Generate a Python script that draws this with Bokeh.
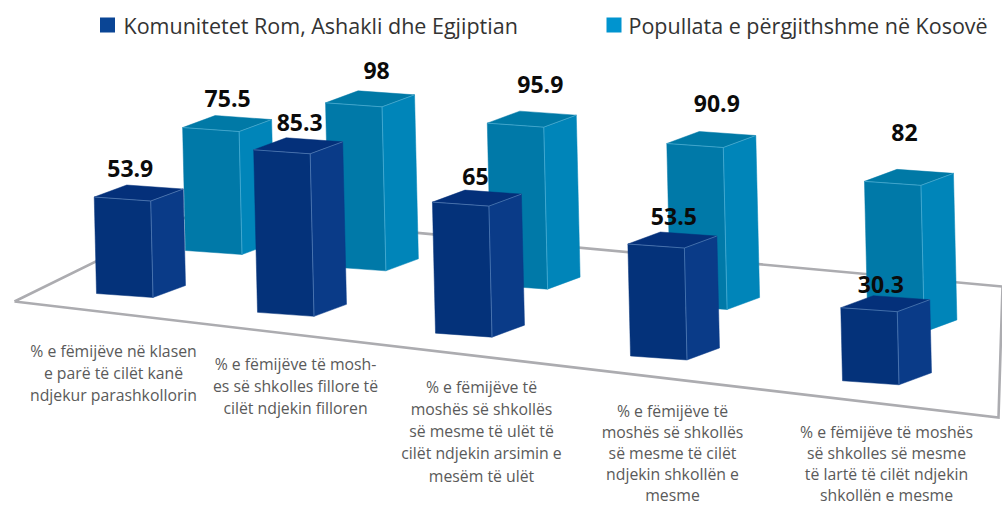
from bokeh.embed import file_html
from bokeh.models import ColumnDataSource, Range1d
from bokeh.plotting import figure
from bokeh.resources import INLINE
from bokeh.core.properties import value

# ---- data -------------------------------------------------------------
series_names = ["Komunitetet Rom, Ashakli dhe Egjiptian", "Popullata e përgjithshme në Kosovë"]
rom_values = [53.9, 85.3, 65, 53.5, 30.3]
pop_values = [75.5, 98, 95.9, 90.9, 82]
# The picture does not draw its bars in proportion to their printed labels:
# these are the bar heights as drawn, read on a common scale of percent units.
rom_drawn = [53.6, 90.3, 72.8, 62.2, 40.6]
pop_drawn = [68.3, 91.1, 90.0, 90.0, 81.4]
categories = [
    ["% e fëmijëve në klasen", "e parë të cilët kanë", "ndjekur parashkollorin"],
    ["% e fëmijëve të mosh-", "es së shkolles fillore të", "cilët ndjekin filloren"],
    ["% e fëmijëve të", "moshës së shkollës", "së mesme të ulët të", "cilët ndjekin arsimin e", "mesëm të ulët"],
    ["% e fëmijëve të", "moshës së shkollës", "së mesme të cilët", "ndjekin shkollën e", "mesme"],
    ["% e fëmijëve të moshës", "së shkolles së mesme", "të lartë të cilët ndjekin", "shkollën e mesme"],
]

# ---- layout / perspective parameters ----------------------------------
PX_PER_UNIT = 1.8
LEAN = 0.0235
FRONT = (56.5, 4.0)
SIDE = (32.5, -12.0)
ROM = dict(x0=96, ax=152.5, bx=8.5, y0=293, slope=0.117,
           front="#04327a", side="#0a3b88", top="#04307a", edge="#5d87bd")
POP = dict(x0=185, ax=135, bx=8.9, y0=250, slope=0.1134,
           front="#0079a8", side="#0085b9", top="#0079a6", edge="#55b4d8")
rom_label_off = [(36, -29), (46, -27), (43, -26), (46, -28), (40, -23)]
pop_label_off = [(45, -29), (51, -32), (53, -39), (50, -40), (40, -49)]
cat_x = [113, 295, 481, 672, 886]
cat_first_y = [350, 363, 386, 410, 431]
cat_step = [22.3, 22.3, 22.3, 21.2, 21.2]
FLOOR_X = [14, 195, 1002, 998, 14]
FLOOR_Y = [301, 212, 286, 417, 301]

p = figure(width=1002, height=506, output_backend="svg", toolbar_location=None,
           x_range=Range1d(0, 1002), y_range=Range1d(506, 0),
           x_axis_type=None, y_axis_type=None, min_border=0,
           outline_line_color=None, background_fill_color="white")
p.grid.visible = False

p.line(FLOOR_X, FLOOR_Y, line_color="#acacb0", line_width=2.6, line_join="miter")


def bars(drawn, style):
    data = {k: [] for k in ("fx", "fy", "sx", "sy", "tx", "ty")}
    ex0, ey0, ex1, ey1 = [], [], [], []
    tops = []
    for i, d in enumerate(drawn):
        h = d * PX_PER_UNIT
        blx = style["x0"] + style["ax"] * i + style["bx"] * i * i
        bly = style["y0"] + style["slope"] * (blx - style["x0"])
        tlx, tly = blx - LEAN * h, bly - h
        brx, bry = blx + FRONT[0], bly + FRONT[1]
        trx, try_ = tlx + FRONT[0], tly + FRONT[1]
        data["fx"].append([tlx, trx, brx, blx])
        data["fy"].append([tly, try_, bry, bly])
        data["sx"].append([trx, trx + SIDE[0], brx + SIDE[0], brx])
        data["sy"].append([try_, try_ + SIDE[1], bry + SIDE[1], bry])
        data["tx"].append([tlx, tlx + SIDE[0], trx + SIDE[0], trx])
        data["ty"].append([tly, tly + SIDE[1], try_ + SIDE[1], try_])
        for a, b in (((tlx, tly), (trx, try_)), ((trx, try_), (brx, bry)),
                     ((trx, try_), (trx + SIDE[0], try_ + SIDE[1]))):
            ex0.append(a[0]); ey0.append(a[1]); ex1.append(b[0]); ey1.append(b[1])
        tops.append((tlx, tly))
    src = ColumnDataSource(data)
    p.patches("fx", "fy", source=src, fill_color=style["front"], line_color=style["front"], line_width=0.5)
    p.patches("sx", "sy", source=src, fill_color=style["side"], line_color=style["side"], line_width=0.5)
    p.patches("tx", "ty", source=src, fill_color=style["top"], line_color=style["top"], line_width=0.5)
    p.segment(ex0, ey0, ex1, ey1, line_color=style["edge"], line_width=0.7)
    return tops


pop_tops = bars(pop_drawn, POP)
rom_tops = bars(rom_drawn, ROM)

lx, ly, lt = [], [], []
for tops, offs, vals in ((pop_tops, pop_label_off, pop_values), (rom_tops, rom_label_off, rom_values)):
    for (tx, ty), (dx, dy), v in zip(tops, offs, vals):
        lx.append(tx + dx); ly.append(ty + dy); lt.append(str(v))
p.text(lx, ly, text=lt, text_font=value("Open Sans"), text_font_style="bold",
       text_font_size="23px", text_align="center", text_baseline="middle", text_color="#0b0b0b")

# category labels
cx, cy, ct = [], [], []
for x, y0, step, lines in zip(cat_x, cat_first_y, cat_step, categories):
    for k, s in enumerate(lines):
        cx.append(x); cy.append(y0 + k * step); ct.append(s)
p.text(cx, cy, text=ct, text_font=value("Open Sans"), text_font_size="15.8px",
       text_align="center", text_baseline="middle", text_color="#5a5a5a")

# legend
LEG_Y = 25
p.rect([107, 613.5], [LEG_Y - 0.5, LEG_Y - 0.5], width=15, height=15,
       fill_color=["#0a4595", "#0094cf"], line_color=None)
p.text([123, 628], [LEG_Y, LEG_Y], text=series_names, text_font=value("Open Sans"),
       text_font_size="21.5px", text_align="left", text_baseline="middle", text_color="#333333")

open("out.html", "w").write(file_html(p, INLINE))
